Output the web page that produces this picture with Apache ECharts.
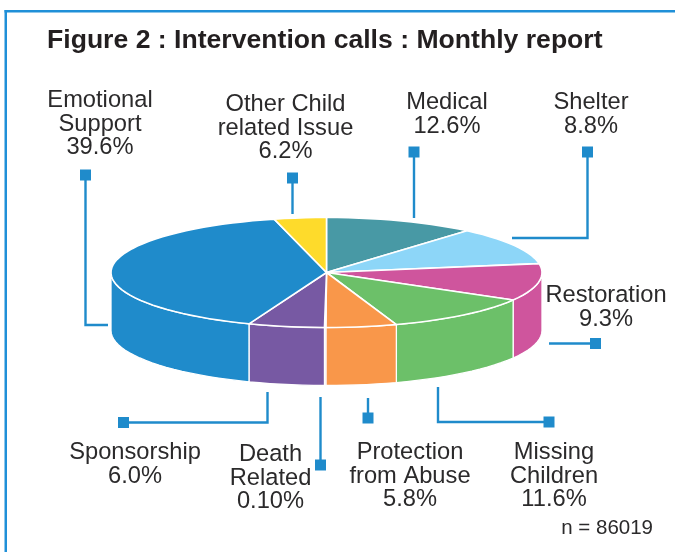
<!DOCTYPE html>
<html>
<head>
<meta charset="utf-8">
<style>html,body{margin:0;padding:0;background:#fff}#c{width:675px;height:552px}</style>
<script src="https://cdn.jsdelivr.net/npm/echarts@6/dist/echarts.min.js"></script>
</head>
<body>
<div id="c"></div>
<script>
// Clockwise from 12 o'clock
const categories = ['Medical', 'Shelter', 'Restoration', 'Missing Children', 'Protection from Abuse', 'Death Related', 'Sponsorship', 'Emotional Support', 'Other Child related Issue'];
// Percentages printed on the labels
const printedValues = ['12.6%', '8.8%', '9.3%', '11.6%', '5.8%', '0.10%', '6.0%', '39.6%', '6.2%'];
// Slice sizes as they are actually drawn in the picture (percent of the ellipse sweep)
const drawnShares = [11.3, 11.1, 10.9, 11.4, 5.3, 0.1, 5.7, 40.2, 3.9];
const colors = ['#4899a5', '#8dd6f8', '#cf559d', '#6cc069', '#f9974a', '#7759a3', '#7759a3', '#1f8bcb', '#fedb2b'];

const BLUE = '#1f8bcb', INK = '#2b2a2b';
const CX = 326.5, CY = 272.5, RX = 215.5, RY = 55, DEPTH = 58;
const total = drawnShares.reduce((a, b) => a + b, 0);

function pt(a, dy) { return [CX + RX * Math.sin(a), CY - RY * Math.cos(a) + (dy || 0)]; }

function renderSlice(params, api) {
  const i = params.dataIndex;
  let before = 0;
  for (let k = 0; k < i; k++) before += drawnShares[k];
  const a0 = before / total * Math.PI * 2;
  const a1 = (before + api.value(0)) / total * Math.PI * 2;
  const STEPS = 120;
  const top = [[CX, CY]];
  const n = Math.max(2, Math.ceil(STEPS * (a1 - a0) / (Math.PI * 2)));
  for (let s = 0; s <= n; s++) top.push(pt(a0 + (a1 - a0) * s / n));
  const children = [];
  // Visible wall: sweep between 3 o'clock and 9 o'clock
  const s0 = Math.max(a0, Math.PI / 2), s1 = Math.min(a1, Math.PI * 3 / 2);
  if (s1 > s0) {
    const up = [], down = [];
    const m = Math.max(2, Math.ceil(STEPS * (s1 - s0) / (Math.PI * 2)));
    for (let s = 0; s <= m; s++) {
      const a = s0 + (s1 - s0) * s / m;
      up.push(pt(a));
      down.unshift(pt(a, DEPTH));
    }
    children.push({
      type: 'polygon', z2: 1,
      shape: { points: up.concat(down) },
      style: { fill: colors[i], stroke: '#fff', lineWidth: 1.3, lineJoin: 'round' }
    });
  }
  children.push({
    type: 'polygon', z2: 2,
    shape: { points: top },
    style: { fill: colors[i], stroke: '#fff', lineWidth: 1.6, lineJoin: 'round' }
  });
  return { type: 'group', children: children };
}

// Label layout: centre x, first-line y, wrapped name lines, index into printedValues
const labelLayout = [
  { i: 7, x: 100, y: 100.5, lines: ['Emotional', 'Support'] },
  { i: 8, x: 285.5, y: 104.5, lines: ['Other Child', 'related Issue'] },
  { i: 0, x: 447, y: 102.5, lines: ['Medical'] },
  { i: 1, x: 591, y: 102.5, lines: ['Shelter'] },
  { i: 2, x: 606, y: 295.5, lines: ['Restoration'] },
  { i: 3, x: 554, y: 452.5, lines: ['Missing', 'Children'] },
  { i: 4, x: 410, y: 452.5, lines: ['Protection', 'from Abuse'] },
  { i: 5, x: 270.5, y: 454.5, lines: ['Death', 'Related'] },
  { i: 6, x: 135, y: 452.5, lines: ['Sponsorship'] }
];
// Leader lines: polyline, square centre
const leaders = [
  { p: [[85.5, 175], [85.5, 325], [108, 325]], s: [85.5, 175] },
  { p: [[292.5, 178], [292.5, 214]], s: [292.5, 178] },
  { p: [[414, 152], [414, 218]], s: [414, 152] },
  { p: [[587.5, 152], [587.5, 238], [512, 238]], s: [587.5, 152] },
  { p: [[549, 343.5], [595.5, 343.5]], s: [595.5, 343.5] },
  { p: [[438, 387], [438, 422], [549, 422]], s: [549, 422] },
  { p: [[368, 398], [368, 418]], s: [368, 418] },
  { p: [[320.5, 397], [320.5, 465]], s: [320.5, 465] },
  { p: [[267.5, 392], [267.5, 422.5], [123.5, 422.5]], s: [123.5, 422.5] }
];

const graphics = [
  { type: 'rect', shape: { x: 4.5, y: 10, width: 2.5, height: 542 }, style: { fill: '#2090d8' } },
  { type: 'rect', shape: { x: 4.5, y: 10, width: 670.5, height: 2.5 }, style: { fill: '#2090d8' } },
  { type: 'text', x: 47, y: 40.5, style: { text: 'Figure 2 : Intervention calls : Monthly report', font: 'bold 26.6px "Liberation Sans", Arial, sans-serif', fill: '#231f20', textAlign: 'left', textVerticalAlign: 'middle' } },
  { type: 'text', x: 653, y: 528, style: { text: 'n = 86019', font: '20.5px "Liberation Sans", Arial, sans-serif', fill: INK, textAlign: 'right', textVerticalAlign: 'middle' } }
];
leaders.forEach(l => {
  graphics.push({ type: 'polyline', shape: { points: l.p }, style: { stroke: BLUE, lineWidth: 2.4, fill: null, lineJoin: 'miter' } });
  graphics.push({ type: 'rect', shape: { x: l.s[0] - 5.5, y: l.s[1] - 5.5, width: 11, height: 11 }, style: { fill: BLUE } });
});
labelLayout.forEach(l => {
  const rows = l.lines.concat([printedValues[l.i]]);
  rows.forEach((t, r) => {
    graphics.push({ type: 'text', x: l.x, y: l.y + r * 23.7, style: { text: t, font: '23.7px "Liberation Sans", Arial, sans-serif', fill: INK, textAlign: 'center', textVerticalAlign: 'middle' } });
  });
});

const chart = echarts.init(document.getElementById('c'), null, { renderer: 'canvas' });
chart.setOption({
  animation: false,
  backgroundColor: '#fff',
  series: [{
    type: 'custom',
    coordinateSystem: 'none',
    renderItem: renderSlice,
    data: drawnShares.map((v, i) => ({ name: categories[i], value: [v] })),
    silent: true
  }],
  graphic: { elements: graphics }
});
</script>
</body>
</html>
